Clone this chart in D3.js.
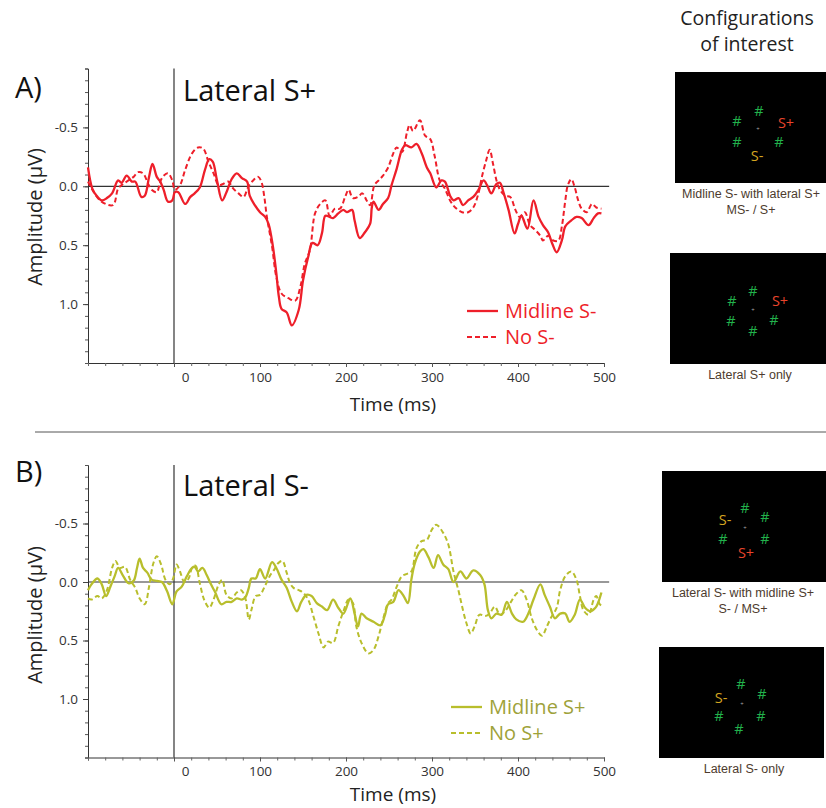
<!DOCTYPE html>
<html>
<head>
<meta charset="utf-8">
<script src="https://cdn.jsdelivr.net/npm/d3@7"></script>
<style>
  html, body { margin: 0; padding: 0; background: #fff; }
  svg { display: block; }
</style>
</head>
<body>
<script>
// ---------------- DATA ----------------
const timeTicks = [0, 100, 200, 300, 400, 500];
const ampTicks = [-0.5, 0.0, 0.5, 1.0];

// Panel A: Lateral S+  ([time ms, amplitude µV])
const midlineSminus = [[-100,-0.16],[-95,0.02],[-90,0.08],[-84,0.12],[-78,0.10],[-72,0.06],[-65,-0.05],[-61,-0.03],[-55,-0.09],[-49,-0.04],[-45,-0.04],[-38,0.09],[-34,0.08],[-29,-0.08],[-25,-0.19],[-20,-0.08],[-16,-0.04],[-12,0.03],[-7,0.13],[-2,0.12],[1,0.05],[5,0.05],[13,0.15],[19,0.09],[24,0.06],[30,0.01],[36,-0.14],[41,-0.23],[45,-0.21],[50,-0.05],[56,0.12],[61,0.05],[67,-0.06],[73,-0.11],[79,-0.07],[85,-0.04],[88,0.08],[94,0.16],[100,0.22],[106,0.26],[110,0.32],[115,0.51],[119,0.74],[122,0.94],[125,1.04],[131,1.07],[137,1.18],[145,1.05],[150,0.80],[156,0.60],[161,0.48],[167,0.50],[172,0.40],[176,0.25],[181,0.26],[185,0.27],[191,0.23],[197,0.20],[201,0.22],[207,0.20],[210,0.29],[216,0.44],[222,0.39],[228,0.32],[230,0.18],[232,0.13],[238,0.20],[243,0.15],[249,0.10],[253,-0.01],[259,-0.15],[265,-0.31],[269,-0.35],[276,-0.33],[282,-0.36],[288,-0.28],[294,-0.16],[298,-0.11],[305,0.01],[311,-0.05],[315,-0.04],[321,0.08],[325,0.12],[331,0.10],[336,0.16],[342,0.12],[348,0.09],[354,0.03],[360,-0.05],[364,-0.01],[369,0.06],[375,-0.02],[379,-0.03],[383,0.05],[389,0.20],[396,0.40],[400,0.32],[404,0.25],[411,0.36],[418,0.12],[424,0.26],[429,0.33],[435,0.39],[440,0.49],[445,0.56],[451,0.46],[455,0.34],[462,0.29],[468,0.26],[474,0.27],[482,0.33],[488,0.27],[493,0.23],[497,0.23]];
const noSminus = [[-100,-0.04],[-86,0.12],[-71,0.16],[-65,0.02],[-59,-0.02],[-53,-0.05],[-47,-0.08],[-42,-0.12],[-36,-0.11],[-30,-0.02],[-26,0.03],[-20,0.05],[-16,-0.04],[-12,-0.09],[-7,-0.11],[-2,-0.05],[1,0.03],[7,-0.01],[13,-0.14],[21,-0.28],[28,-0.33],[34,-0.32],[40,-0.21],[46,-0.11],[52,-0.01],[57,-0.02],[63,-0.04],[69,0.02],[75,0.06],[81,0.09],[86,0.01],[92,-0.05],[98,-0.08],[102,-0.03],[105,0.09],[108,0.26],[114,0.51],[119,0.77],[125,0.91],[133,0.95],[141,0.97],[147,0.85],[152,0.66],[158,0.54],[164,0.23],[170,0.15],[176,0.12],[181,0.25],[187,0.19],[193,0.19],[199,0.09],[203,0.03],[208,0.10],[214,0.09],[219,0.06],[224,0.12],[228,0.16],[233,-0.01],[238,-0.05],[243,-0.09],[249,-0.16],[255,-0.28],[259,-0.33],[265,-0.29],[271,-0.46],[274,-0.52],[278,-0.47],[286,-0.56],[292,-0.43],[298,-0.40],[303,-0.26],[309,-0.05],[315,0.02],[321,0.12],[327,0.18],[335,0.22],[342,0.22],[348,0.18],[354,0.06],[358,-0.08],[363,-0.22],[367,-0.31],[371,-0.19],[375,-0.05],[379,0.03],[385,0.08],[391,0.09],[397,0.20],[402,0.26],[408,0.22],[414,0.33],[420,0.37],[426,0.42],[429,0.46],[435,0.42],[441,0.46],[447,0.46],[451,0.34],[455,0.12],[458,-0.01],[462,-0.06],[466,0.01],[470,0.12],[474,0.19],[480,0.22],[486,0.15],[491,0.18],[497,0.19]];

// Panel B: Lateral S-
const midlineSplus = [[-100,0.07],[-96,0.02],[-89,-0.03],[-84,0.02],[-79,0.12],[-74,0.04],[-69,-0.05],[-65,-0.12],[-59,-0.05],[-53,0.01],[-47,-0.01],[-43,-0.12],[-40,-0.20],[-36,-0.12],[-31,-0.08],[-26,-0.02],[-20,-0.01],[-14,0.00],[-8,0.08],[-2,0.19],[3,0.08],[9,0.04],[15,-0.05],[21,-0.12],[24,-0.13],[28,-0.09],[33,-0.12],[38,-0.06],[43,0.02],[48,0.09],[55,0.19],[61,0.17],[67,0.17],[73,0.14],[79,0.15],[83,0.13],[87,0.05],[90,-0.03],[95,-0.03],[100,-0.11],[106,-0.03],[114,-0.17],[119,-0.12],[125,-0.02],[131,0.05],[137,0.17],[143,0.25],[148,0.17],[154,0.11],[160,0.12],[166,0.18],[172,0.21],[178,0.24],[185,0.15],[191,0.22],[197,0.27],[205,0.14],[210,0.27],[214,0.38],[218,0.27],[224,0.31],[232,0.34],[240,0.37],[245,0.29],[249,0.19],[255,0.17],[261,0.07],[267,0.12],[272,0.18],[276,-0.02],[280,-0.16],[286,-0.26],[290,-0.28],[296,-0.21],[302,-0.12],[307,-0.23],[313,-0.15],[319,-0.11],[325,0.00],[333,-0.09],[340,-0.03],[348,-0.10],[356,-0.06],[361,0.02],[365,0.24],[369,0.31],[375,0.27],[381,0.28],[387,0.17],[393,0.27],[398,0.32],[406,0.34],[412,0.27],[418,0.15],[426,0.02],[431,0.11],[437,0.21],[443,0.31],[449,0.27],[455,0.27],[460,0.34],[466,0.28],[472,0.15],[478,0.22],[484,0.25],[490,0.22],[493,0.18],[497,0.09]];
const noSplus = [[-100,0.14],[-96,0.15],[-89,0.12],[-84,0.14],[-78,0.07],[-72,-0.12],[-68,-0.18],[-63,-0.12],[-57,-0.13],[-51,-0.02],[-45,0.05],[-40,0.14],[-34,0.19],[-29,0.04],[-24,-0.16],[-20,-0.22],[-15,-0.15],[-10,-0.02],[-5,0.02],[-1,-0.03],[3,-0.15],[7,-0.09],[12,0.00],[17,-0.03],[21,-0.12],[25,-0.14],[30,0.01],[35,0.15],[41,0.22],[46,0.15],[52,0.02],[56,-0.02],[61,0.11],[67,0.14],[73,0.09],[78,0.07],[83,0.14],[87,0.32],[90,0.24],[95,0.12],[100,0.11],[106,0.03],[112,-0.06],[117,-0.11],[121,-0.16],[126,-0.18],[131,-0.08],[135,0.01],[139,0.05],[145,0.07],[150,0.09],[156,0.15],[162,0.29],[168,0.44],[174,0.56],[179,0.51],[185,0.52],[191,0.38],[197,0.25],[203,0.15],[208,0.18],[212,0.38],[218,0.52],[226,0.61],[232,0.58],[238,0.46],[243,0.32],[249,0.18],[253,0.15],[259,0.04],[265,-0.05],[271,-0.07],[276,-0.09],[282,-0.29],[288,-0.35],[294,-0.36],[300,-0.45],[305,-0.49],[313,-0.42],[319,-0.32],[325,-0.09],[331,0.08],[336,0.24],[340,0.35],[345,0.44],[350,0.37],[355,0.28],[362,0.29],[367,0.27],[373,0.21],[379,0.28],[385,0.25],[391,0.18],[397,0.11],[404,0.07],[410,0.15],[416,0.31],[422,0.41],[428,0.46],[433,0.39],[438,0.31],[445,0.22],[449,0.07],[455,-0.05],[462,-0.09],[468,-0.02],[472,0.12],[476,0.24],[482,0.28],[488,0.15],[491,0.12],[495,0.19],[499,0.21]];

const panelLetters = ["A)", "B)"];
const panelTitles = ["Lateral S+", "Lateral S-"];
const legendNamesA = ["Midline S-", "No S-"];
const legendNamesB = ["Midline S+", "No S+"];
const configTitle = ["Configurations", "of interest"];
const configCaptions = [
  ["Midline S- with lateral S+", "MS- / S+"],
  ["Lateral S+ only"],
  ["Lateral S- with midline S+", "S- / MS+"],
  ["Lateral S- only"]
];
// stimulus items per configuration: [label, dx, dy] relative to fixation
const configItems = [
  [["#",1,-18],["#",-21,-8],["#",-21,13],["#",21,13],["S+",28,-6],["S-",-1,27]],
  [["#",0,-19],["#",-21,-9],["#",-22,11],["#",0,21],["#",21,10],["S+",27,-9]],
  [["#",0,-20],["#",20,-11],["#",-22,11],["#",20,11],["S-",-20,-8],["S+",1,25]],
  [["#",-1,-20],["#",20,-10],["#",-23,12],["#",19,12],["#",-3,25],["S-",-21,-6]]
];

// ---------------- LAYOUT ----------------
const W = 826, H = 808;
const FONT = "'Open Sans', sans-serif";
const svg = d3.select("body").append("svg").attr("width", W).attr("height", H);

const x = d3.scaleLinear().domain([-100, 500]).range([88, 604]);
const panels = [
  { top: 68.5, bottom: 363, solid: midlineSminus, dashed: noSminus, color: "#ee1f2a", text: "#ee1f2a",
    names: legendNamesA, legX: 467, legY: 311, titleY: 100.5, letterY: 97.5, timeY: 411, ampY: 217 },
  { top: 465, bottom: 757.5, solid: midlineSplus, dashed: noSplus, color: "#b8be2c", text: "#9ea23a",
    names: legendNamesB, legX: 451, legY: 707, titleY: 495.5, letterY: 482, timeY: 801, ampY: 615 }
];

panels.forEach((p, i) => {
  const y = d3.scaleLinear().domain([-1.0, 1.5]).range([p.top, p.bottom]);
  const g = svg.append("g");

  // y axis: minor ticks
  g.append("g").attr("transform", `translate(${x(-100)},0)`)
    .call(d3.axisLeft(y).tickValues(d3.range(-10, 16).map(d => d / 10)).tickSize(3).tickFormat(""))
    .call(a => a.select(".domain").attr("stroke", "#333"))
    .call(a => a.selectAll(".tick line").attr("stroke", "#555"));
  g.append("g").attr("transform", `translate(${x(-100)},0)`)
    .call(d3.axisLeft(y).tickValues(ampTicks).tickSize(5).tickPadding(5).tickFormat(d => d.toFixed(1)))
    .call(a => a.select(".domain").remove())
    .call(a => a.selectAll(".tick line").attr("stroke", "#444"))
    .call(a => a.selectAll("text").attr("font-family", FONT).attr("font-size", 13.5).attr("fill", "#333"));

  // x axis
  g.append("g").attr("transform", `translate(0,${y(1.5)})`)
    .call(d3.axisBottom(x).tickValues(d3.range(-100, 501, 20)).tickSize(3).tickFormat(""))
    .call(a => a.select(".domain").attr("stroke", "#333"))
    .call(a => a.selectAll(".tick line").attr("stroke", "#666"));
  g.append("g").attr("transform", `translate(0,${y(1.5)})`)
    .call(d3.axisBottom(x).tickValues(timeTicks).tickSize(4).tickPadding(5).tickFormat(d3.format("d")))
    .call(a => a.select(".domain").remove())
    .call(a => a.selectAll(".tick line").attr("stroke", "#555"))
    .call(a => a.selectAll("text").attr("font-family", FONT).attr("font-size", 13.5).attr("fill", "#333")
      .attr("dx", d => d === 0 ? 11 : 0));

  // zero lines
  g.append("line").attr("x1", x(-100)).attr("x2", x(506)).attr("y1", y(0)).attr("y2", y(0))
    .attr("stroke", "#333").attr("stroke-width", 1.2);
  g.append("line").attr("x1", x(0)).attr("x2", x(0)).attr("y1", y(-1.0)).attr("y2", y(1.5))
    .attr("stroke", "#333").attr("stroke-width", 1.2);

  // traces
  const line = d3.line().x(d => x(d[0])).y(d => y(d[1])).curve(d3.curveCatmullRom.alpha(0.5));
  g.append("path").datum(p.dashed).attr("d", line).attr("fill", "none")
    .attr("stroke", p.color).attr("stroke-width", 2).attr("stroke-dasharray", "5,3");
  g.append("path").datum(p.solid).attr("d", line).attr("fill", "none")
    .attr("stroke", p.color).attr("stroke-width", 2.3);

  // texts
  g.append("text").attr("x", 15).attr("y", p.letterY).text(panelLetters[i])
    .attr("font-family", FONT).attr("font-size", 29).attr("fill", "#111");
  g.append("text").attr("x", 183).attr("y", p.titleY).text(panelTitles[i])
    .attr("font-family", FONT).attr("font-size", 29).attr("fill", "#111");
  g.append("text").attr("x", 393).attr("y", p.timeY).attr("text-anchor", "middle").text("Time (ms)")
    .attr("font-family", FONT).attr("font-size", 19).attr("fill", "#222");
  g.append("text").attr("transform", `translate(42,${p.ampY}) rotate(-90)`).attr("text-anchor", "middle")
    .text("Amplitude (µV)").attr("font-family", FONT).attr("font-size", 20).attr("fill", "#222");

  // legend
  p.names.forEach((n, k) => {
    const ly = p.legY + k * 26;
    g.append("line").attr("x1", p.legX).attr("x2", p.legX + 31).attr("y1", ly).attr("y2", ly)
      .attr("stroke", p.color).attr("stroke-width", k === 0 ? 2.3 : 2)
      .attr("stroke-dasharray", k === 0 ? null : "5,3");
    g.append("text").attr("x", p.legX + 38).attr("y", ly).attr("dy", "0.35em").text(n)
      .attr("font-family", FONT).attr("font-size", 20).attr("fill", p.text);
  });
});

// separator
svg.append("line").attr("x1", 35).attr("x2", W).attr("y1", 432).attr("y2", 432)
  .attr("stroke", "#555").attr("stroke-width", 1);

// configurations of interest
configTitle.forEach((t, k) => {
  svg.append("text").attr("x", 747).attr("y", 18 + k * 26).attr("dy", "0.35em").attr("text-anchor", "middle")
    .text(t).attr("font-family", FONT).attr("font-size", 19.5).attr("fill", "#222");
});
const rects = [[675, 72], [670, 253], [662, 471], [659, 647]];
const capX = [751, 750, 743, 744];
rects.forEach((r, i) => {
  const g = svg.append("g");
  g.append("rect").attr("x", r[0]).attr("y", r[1]).attr("width", 165).attr("height", 111).attr("fill", "#000");
  const fx = r[0] + 83, fy = r[1] + 56.5;
  g.append("text").attr("x", fx).attr("y", fy).attr("dy", "0.35em").attr("text-anchor", "middle")
    .text("+").attr("font-family", FONT).attr("font-size", 6).attr("fill", "#aaa");
  configItems[i].forEach(it => {
    const col = it[0] === "#" ? "#22b24c" : (it[0] === "S+" ? "#e8452c" : "#d4a520");
    g.append("text").attr("x", fx + it[1]).attr("y", fy + it[2]).attr("dy", "0.35em").attr("text-anchor", "middle")
      .text(it[0]).attr("font-family", FONT).attr("font-size", 14.5).attr("fill", col);
  });
  configCaptions[i].forEach((c, k) => {
    g.append("text").attr("x", capX[i]).attr("y", r[1] + 111 + 11 + k * 15.5).attr("dy", "0.35em")
      .attr("text-anchor", "middle").text(c)
      .attr("font-family", "'Liberation Sans', Arial, sans-serif").attr("font-size", 12.5).attr("fill", "#4d3b2e");
  });
});
</script>
</body>
</html>
